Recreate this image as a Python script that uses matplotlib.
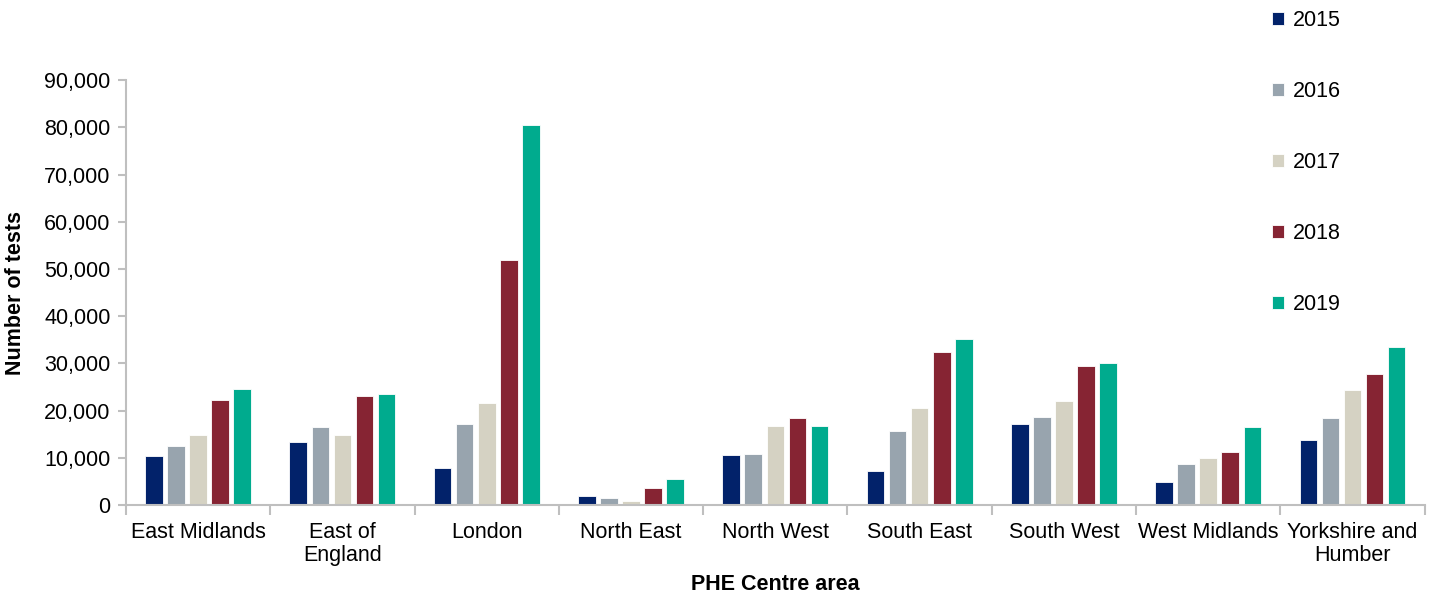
import numpy as np
import matplotlib.pyplot as plt
from matplotlib.ticker import FuncFormatter

plt.rcParams['font.family'] = ['Liberation Sans', 'DejaVu Sans']

areas = ['East Midlands', 'East of\nEngland', 'London', 'North East', 'North West',
         'South East', 'South West', 'West Midlands', 'Yorkshire and\nHumber']
years = ['2015', '2016', '2017', '2018', '2019']
colours = ['#02226A', '#98A4AE', '#D5D2C3', '#862433', '#00AB8E']

tests_2015 = [10300, 13300, 7900, 1850, 10650, 7150, 17100, 4800, 13800]
tests_2016 = [12500, 16600, 17150, 1400, 10800, 15600, 18550, 8600, 18350]
tests_2017 = [14750, 14750, 21700, 850, 16750, 20550, 22050, 9950, 24450]
tests_2018 = [22250, 23150, 51800, 3600, 18350, 32350, 29400, 11250, 27750]
tests_2019 = [24500, 23600, 80550, 5500, 16750, 35100, 30100, 16500, 33450]
series = [tests_2015, tests_2016, tests_2017, tests_2018, tests_2019]

fig = plt.figure(figsize=(14.35, 5.98), dpi=100)
ax = fig.add_axes([0.0878, 0.1555, 0.905, 0.7105])

x = np.arange(len(areas))
step = 0.153
width = 0.122
for i, vals in enumerate(series):
    ax.bar(x + (i - 2) * step, vals, width, color=colours[i], label=years[i],
           edgecolor='white', linewidth=0.6)

ax.set_xlim(-0.5, len(areas) - 0.5)
ax.set_ylim(0, 90000)
ax.set_yticks(np.arange(0, 90001, 10000))
ax.yaxis.set_major_formatter(FuncFormatter(lambda v, p: f'{int(v):,}'))

ax.set_xticks(x)
ax.set_xticklabels(areas, fontsize=15.5, linespacing=1.1)
ax.set_xticks(np.arange(-0.5, len(areas)), minor=True)
ax.tick_params(axis='x', which='major', length=0, pad=12.5)
ax.tick_params(axis='x', which='minor', length=7, width=1.5, color='#BFBFBF', direction='out')
ax.tick_params(axis='y', labelsize=15.5, length=6, width=1.5, color='#BFBFBF', pad=5)

for s in ['top', 'right']:
    ax.spines[s].set_visible(False)
for s in ['left', 'bottom']:
    ax.spines[s].set_color('#BFBFBF')
    ax.spines[s].set_linewidth(1.5)

ax.set_ylabel('Number of tests', fontsize=15.5, fontweight='bold', labelpad=13)
ax.set_xlabel('PHE Centre area', fontsize=15.5, fontweight='bold', labelpad=6)

fig.legend(loc='upper left', bbox_to_anchor=(0.876, 1.008), frameon=False,
           fontsize=15.5, handlelength=0.55, handleheight=0.55, handletextpad=0.4,
           labelspacing=2.32, borderaxespad=0.3)

fig.savefig('out.png', dpi=100)
